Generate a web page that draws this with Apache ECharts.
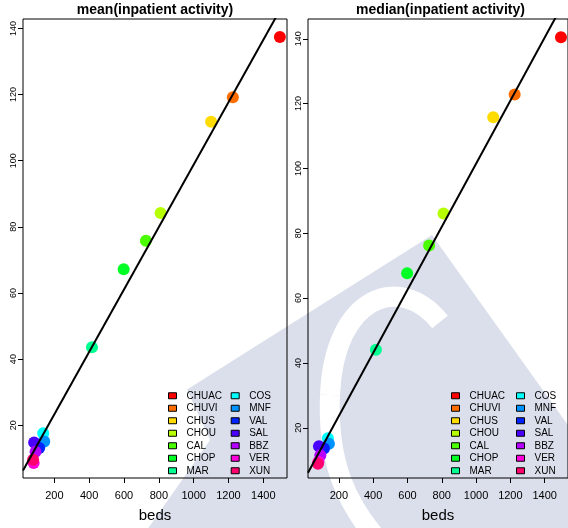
<!DOCTYPE html>
<html>
<head>
<meta charset="utf-8">
<script src="https://cdn.jsdelivr.net/npm/echarts@6/dist/echarts.min.js"></script>
<style>
  html, body { margin: 0; padding: 0; background: #fff; }
  #main { width: 568px; height: 528px; }
</style>
</head>
<body>
<div id="main"></div>
<script>
// hospitals, in legend order
const hospitals = ['CHUAC', 'CHUVI', 'CHUS', 'CHOU', 'CAL', 'CHOP', 'MAR',
                   'COS', 'MNF', 'VAL', 'SAL', 'BBZ', 'VER', 'XUN'];
const beds = [1495, 1225, 1100, 810, 726, 598, 416, 136, 142, 113, 84, 92, 81, 78];
const meanActivity = [137.4, 119.2, 111.8, 84.2, 75.8, 67.2, 43.6, 17.6, 15.1, 13.1, 14.8, 12.0, 8.6, 9.6];
const medianActivity = [140.5, 122.8, 115.8, 86.1, 76.2, 67.7, 44.1, 16.8, 15.1, 13.6, 14.3, 11.5, 9.5, 8.9];
// R rainbow(14)
const pointColors = ['#FF0000', '#FF6D00', '#FFDB00', '#B6FF00', '#49FF00', '#00FF24', '#00FF92',
                     '#00FFFF', '#0092FF', '#0024FF', '#4900FF', '#B600FF', '#FF00DB', '#FF006D'];
// fitted lines: [intercept, slope]
const meanFit = [4.4, 0.0944];
const medianFit = [4.15, 0.0973];

const xRange = [20, 1536];
const meanRange = [4.05, 142.86];
const medianRange = [4.5, 146.1];
const xTicks = [200, 400, 600, 800, 1000, 1200, 1400];
const yTicks = [20, 40, 60, 80, 100, 120, 140];

const font = "'Liberation Sans', Arial, sans-serif";

const chart = echarts.init(document.getElementById('main'));

const xAxisFor = (idx) => ({
  gridIndex: idx,
  type: 'value',
  min: xRange[0],
  max: xRange[1],
  axisLine: { show: false },
  splitLine: { show: false },
  axisTick: { show: true, inside: false, length: 5, customValues: xTicks, lineStyle: { color: '#000' } },
  axisLabel: { customValues: xTicks, margin: 12, fontSize: 11, color: '#000', fontFamily: font,
               formatter: (v) => String(v) },
  name: 'beds',
  nameLocation: 'middle',
  nameGap: 30,
  nameTextStyle: { fontSize: 15, color: '#000', fontFamily: font }
});

const yAxisFor = (idx, range) => ({
  gridIndex: idx,
  type: 'value',
  min: range[0],
  max: range[1],
  axisLine: { show: false },
  splitLine: { show: false },
  axisTick: { show: true, inside: false, length: 5, customValues: yTicks, lineStyle: { color: '#000' } },
  axisLabel: { customValues: yTicks, rotate: 90, margin: 5, fontSize: 9, color: '#000', fontFamily: font,
               formatter: (v) => String(v) }
});

const pointSeries = (values, idx) => hospitals.map((name, i) => ({
  name: name,
  type: 'scatter',
  xAxisIndex: idx,
  yAxisIndex: idx,
  symbolSize: 12,
  itemStyle: { color: pointColors[i], opacity: 1 },
  data: [[beds[i], values[i]]],
  z: 2
}));

const fitSeries = (fit, idx) => ({
  type: 'line',
  xAxisIndex: idx,
  yAxisIndex: idx,
  symbol: 'none',
  silent: true,
  clip: true,
  lineStyle: { color: '#000', width: 2 },
  data: xRange.map(x => [x, fit[0] + fit[1] * x]),
  z: 3
});

const legendFor = (left, names) => ({
  orient: 'vertical',
  left: left,
  top: 389.5,
  padding: 0,
  itemGap: 0,
  itemWidth: 8,
  itemHeight: 6,
  icon: 'rect',
  selectedMode: false,
  data: names,
  itemStyle: { borderColor: '#000', borderWidth: 1 },
  textStyle: { fontSize: 10, lineHeight: 8.5, padding: [4, 0, 0, 5], color: '#000', fontFamily: font }
});

const titleFor = (text, x) => ({
  text: text,
  left: x,
  top: 3,
  padding: 0,
  textAlign: 'center',
  textStyle: { fontSize: 14, fontWeight: 'bold', color: '#000', fontFamily: font }
});

const gridStyle = { show: true, borderColor: '#000', borderWidth: 1, backgroundColor: 'transparent' };

const option = {
  backgroundColor: '#fff',
  animation: false,
  title: [
    titleFor('mean(inpatient activity)', 155),
    titleFor('median(inpatient activity)', 440.5)
  ],
  graphic: {
    elements: [
      // watermark behind the plots
      {
        type: 'polygon', z: -10, silent: true,
        shape: { points: [[432, 235], [620, 498], [620, 560], [-20, 560], [-20, 520]] },
        style: { fill: '#dadfeb' }
      },
      {
        type: 'polygon', z: -9, silent: true,
        shape: { points: [[-20, 330], [160, 330], [210, 440], [140, 540], [-20, 540]] },
        style: { fill: '#fff' }
      },
      {
        type: 'bezierCurve', z: -9, silent: true,
        shape: { x1: 440, y1: 322, cpx1: 400, cpy1: 272, cpx2: 334, cpy2: 296, x2: 330, y2: 395 },
        style: { fill: null, stroke: '#fff', lineWidth: 20 }
      },
      {
        type: 'bezierCurve', z: -9, silent: true,
        shape: { x1: 330, y1: 395, cpx1: 327, cpy1: 465, cpx2: 348, cpy2: 505, x2: 378, y2: 540 },
        style: { fill: null, stroke: '#fff', lineWidth: 20 }
      }
    ]
  },
  legend: [
    legendFor(168, hospitals.slice(0, 7)),
    legendFor(230.7, hospitals.slice(7)),
    legendFor(451, hospitals.slice(0, 7)),
    legendFor(516, hospitals.slice(7))
  ],
  grid: [
    Object.assign({ left: 23, top: 19, width: 264, height: 461 }, gridStyle),
    Object.assign({ left: 308, top: 19, width: 264.5, height: 461 }, gridStyle)
  ],
  xAxis: [xAxisFor(0), xAxisFor(1)],
  yAxis: [yAxisFor(0, meanRange), yAxisFor(1, medianRange)],
  series: [
    ...pointSeries(meanActivity, 0),
    fitSeries(meanFit, 0),
    ...pointSeries(medianActivity, 1),
    fitSeries(medianFit, 1)
  ]
};

chart.setOption(option);
</script>
</body>
</html>
